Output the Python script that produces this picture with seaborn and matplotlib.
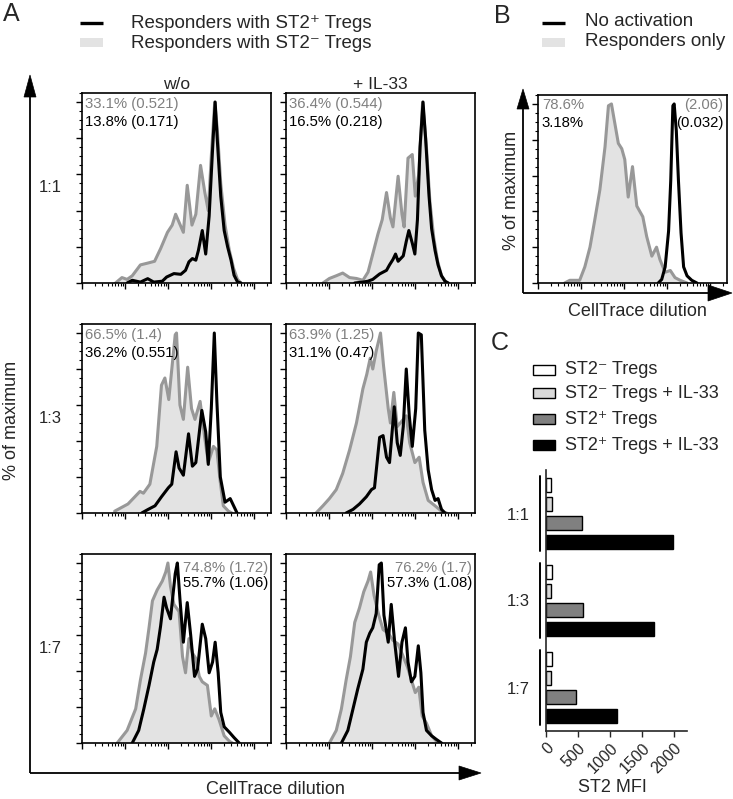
import numpy as np
import pandas as pd
import matplotlib
matplotlib.use("Agg")
import matplotlib.pyplot as plt
from matplotlib.patches import Polygon, Rectangle
from matplotlib.ticker import LogLocator, MultipleLocator, NullFormatter
import seaborn as sns

sns.set_style("ticks")
plt.rcParams["font.family"] = ["Liberation Sans", "DejaVu Sans"]
plt.rcParams["mathtext.fontset"] = "custom"
plt.rcParams["mathtext.rm"] = "Liberation Sans"
plt.rcParams["mathtext.it"] = "Liberation Sans:italic"
plt.rcParams["mathtext.bf"] = "Liberation Sans:bold"
plt.rcParams["mathtext.default"] = "regular"

W, H = 733, 799
GRAY_LINE = "#989898"
GRAY_FILL = "#e3e3e3"
GRAY_TEXT = "#808080"

# %% data: CellTrace intensity (log10) vs % of maximum
# "neg" = responders with ST2- Tregs (grey, filled), "pos" = responders with ST2+ Tregs (black)
r11_wo_neg_x = [1.78, 1.93, 2.05, 2.17, 2.36, 2.53, 2.69, 2.83, 2.99, 3.10, 3.18, 3.27, 3.36, 3.45,
                3.56, 3.65, 3.76, 3.86, 3.94, 4.01, 4.09, 4.15, 4.23, 4.33, 4.43, 4.53, 4.62, 4.70]
r11_wo_neg_y = [0, 3, 2, 4, 10, 11, 12, 19, 28, 32, 38, 33, 28, 54,
                32, 38, 65, 50, 40, 70, 100, 85, 55, 32, 18, 8, 2, 0]
r11_wo_pos_x = [2.05, 2.17, 2.36, 2.53, 2.67, 2.87, 2.97, 3.14, 3.30, 3.41, 3.49, 3.57, 3.65, 3.71,
                3.80, 3.88, 3.96, 4.04, 4.10, 4.15, 4.23, 4.31, 4.39, 4.47, 4.54, 4.62, 4.70]
r11_wo_pos_y = [0, 1.5, 0.5, 2.4, 0.5, 1, 3.3, 5.2, 4.8, 7, 11.7, 13.5, 12.6, 18,
                29, 16, 37, 74, 100, 79, 48, 29, 20, 12.6, 4.3, 0.6, 0]

r11_il_neg_x = [1.86, 2.01, 2.17, 2.32, 2.48, 2.64, 2.79, 2.91, 3.02, 3.14, 3.24, 3.34, 3.43, 3.49,
                3.61, 3.70, 3.75, 3.84, 3.94, 4.01, 4.09, 4.18, 4.27, 4.35, 4.44, 4.53, 4.62, 4.74]
r11_il_neg_y = [0, 2.5, 4, 5.5, 3, 2.5, 1.5, 6, 16, 27, 35, 50, 36, 31,
                59, 38, 31, 69, 71, 48, 60, 100, 75, 45, 25, 12, 4, 0]
r11_il_pos_x = [2.60, 2.79, 2.91, 3.02, 3.18, 3.34, 3.41, 3.49, 3.55, 3.61, 3.65, 3.73, 3.80, 3.86,
                3.94, 4.00, 4.06, 4.12, 4.19, 4.25, 4.33, 4.39, 4.47, 4.54, 4.62, 4.70, 4.78]
r11_il_pos_y = [0, 0.5, 1, 2, 5, 7, 10, 13, 16, 12, 13, 15, 23, 29,
                22, 16, 35, 75, 100, 80, 48, 30, 18, 10, 4, 1, 0]

r13_wo_neg_x = [1.76, 2.07, 2.35, 2.43, 2.58, 2.74, 2.85, 2.93, 3.02, 3.17, 3.20, 3.28, 3.36,
                3.46, 3.55, 3.63, 3.75, 3.85, 3.94, 4.06, 4.14, 4.22, 4.29, 4.41, 4.49]
r13_wo_neg_y = [1, 5, 12, 11, 16, 37, 71, 75, 63, 99, 100, 60, 52,
                81, 58, 52, 62, 43, 28, 37, 35, 17, 4, 1, 0]
r13_wo_pos_x = [2.39, 2.54, 2.70, 2.85, 3.01, 3.09, 3.19, 3.26, 3.36, 3.48, 3.57, 3.65,
                3.79, 3.88, 3.94, 4.01, 4.08, 4.14, 4.22, 4.33, 4.45, 4.53, 4.61]
r13_wo_pos_y = [0, 2, 4, 9, 14, 16, 34, 25, 21, 44, 26, 28,
                57, 45, 27, 58, 100, 62, 20, 6, 8, 4, 0]

r13_il_neg_x = [1.70, 1.86, 2.01, 2.17, 2.32, 2.48, 2.64, 2.79, 2.88, 2.96, 3.02, 3.10, 3.20, 3.27,
                3.38, 3.43, 3.51, 3.59, 3.66, 3.80, 3.88, 4.00, 4.10, 4.19, 4.31, 4.47, 4.62, 4.74]
r13_il_neg_y = [0, 4, 8, 13, 22, 35, 50, 69, 77, 86, 80, 90, 100, 82,
                58, 50, 67, 48, 50, 54, 39, 28, 31, 17, 7, 4, 1, 0]
r13_il_pos_x = [2.40, 2.56, 2.71, 2.87, 2.99, 3.06, 3.18, 3.26, 3.34, 3.41, 3.52, 3.59, 3.66, 3.73,
                3.80, 3.87, 3.94, 4.02, 4.08, 4.15, 4.23, 4.31, 4.39, 4.47, 4.54, 4.62, 4.70]
r13_il_pos_y = [0, 2, 5, 9, 13, 14, 42, 43, 31, 28, 59, 39, 32, 48,
                80, 54, 37, 58, 100, 99, 46, 24, 13, 7, 8, 2, 0]

r17_wo_neg_x = [1.82, 2.05, 2.25, 2.36, 2.48, 2.56, 2.64, 2.75, 2.87, 2.95, 3.00, 3.06, 3.14, 3.26,
                3.34, 3.41, 3.49, 3.57, 3.65, 3.73, 3.80, 3.92, 4.01, 4.09, 4.19, 4.31, 4.43, 4.50]
r17_wo_neg_y = [0, 7, 19, 35, 50, 64, 79, 85, 90, 95, 100, 87, 77, 73,
                48, 39, 58, 50, 47, 37, 34, 32, 15, 19, 13, 4, 1, 0]
r17_wo_pos_x = [2.17, 2.32, 2.44, 2.56, 2.67, 2.75, 2.83, 2.91, 2.97, 3.06, 3.17, 3.22, 3.28, 3.36, 3.45,
                3.53, 3.62, 3.69, 3.80, 3.88, 3.96, 4.04, 4.10, 4.17, 4.23, 4.31, 4.43, 4.54, 4.66]
r17_wo_pos_y = [0, 7, 19, 32, 45, 52, 65, 81, 75, 69, 94, 100, 80, 56, 78,
                60, 37, 41, 66, 58, 39, 45, 56, 39, 17, 9, 6, 3, 0]

r17_il_neg_x = [2.01, 2.17, 2.29, 2.40, 2.50, 2.60, 2.71, 2.81, 2.91, 2.97, 3.05, 3.16, 3.26,
                3.38, 3.49, 3.61, 3.73, 3.83, 3.92, 4.01, 4.09, 4.17, 4.27, 4.39, 4.54]
r17_il_neg_y = [0, 7, 19, 35, 48, 67, 75, 84, 90, 95, 82, 71, 63,
                61, 57, 55, 48, 42, 35, 28, 31, 15, 11, 4, 0]
r17_il_pos_x = [2.29, 2.44, 2.56, 2.67, 2.79, 2.87, 2.95, 3.02, 3.10, 3.17, 3.22, 3.28, 3.38, 3.45,
                3.53, 3.62, 3.70, 3.78, 3.84, 3.92, 4.00, 4.08, 4.14, 4.19, 4.27, 4.39, 4.50, 4.62]
r17_il_pos_y = [0, 7, 19, 30, 41, 56, 61, 64, 72, 99, 100, 71, 56, 77,
                56, 37, 56, 64, 45, 34, 37, 54, 39, 17, 7, 4, 2, 0]

# panel B: responders only (grey) vs no activation (black)
resp_only_x = [1.62, 1.74, 1.97, 2.09, 2.21, 2.32, 2.44, 2.56, 2.64, 2.71, 2.79, 2.87, 2.95, 3.02,
               3.10, 3.20, 3.30, 3.44, 3.53, 3.65, 3.76, 3.84, 3.96, 4.08, 4.19, 4.31, 4.47]
resp_only_y = [0, 1.5, 1.5, 9, 20, 35, 52, 76, 99, 100, 89, 78, 75, 69,
               48, 65, 43, 37, 26, 15, 20, 13, 6, 7, 3, 1.5, 0]
no_act_x = [3.80, 3.88, 3.96, 4.04, 4.09, 4.14, 4.17, 4.22, 4.27, 4.33, 4.39, 4.47, 4.58, 4.70]
no_act_y = [0, 2, 9, 29, 57, 99, 100, 85, 57, 28, 9, 4, 1.5, 0]

col_titles = ["w/o", "+ IL-33"]
row_labels = ["1:1", "1:3", "1:7"]
stats_neg = ["33.1% (0.521)", "36.4% (0.544)", "66.5% (1.4)", "63.9% (1.25)", "74.8% (1.72)", "76.2% (1.7)"]
stats_pos = ["13.8% (0.171)", "16.5% (0.218)", "36.2% (0.551)", "31.1% (0.47)", "55.7% (1.06)", "57.3% (1.08)"]

# panel C: ST2 MFI of Tregs
ratios = ["1:1", "1:3", "1:7"]
groups = ["ST2\u207b Tregs", "ST2\u207b Tregs + IL-33", "ST2\u207a Tregs", "ST2\u207a Tregs + IL-33"]
mfi_neg = [80, 90, 95]
mfi_neg_il33 = [95, 85, 75]
mfi_pos = [560, 575, 470]
mfi_pos_il33 = [1980, 1680, 1100]
bar_colors = ["white", "#d9d9d9", "#808080", "black"]

# %% figure
fig = plt.figure(figsize=(W / 100, H / 100), dpi=100)


def rect(x0, y0, x1, y1):
    return [x0 / W, 1 - y1 / H, (x1 - x0) / W, (y1 - y0) / H]


over = fig.add_axes([0, 0, 1, 1])
over.set_xlim(0, W)
over.set_ylim(H, 0)
over.axis("off")


def arrow(x0, y0, x1, y1, head_len=21, head_w=7):
    d = np.array([x1 - x0, y1 - y0], dtype=float)
    d /= np.hypot(*d)
    n = np.array([-d[1], d[0]])
    base = np.array([x1, y1]) - d * head_len
    over.plot([x0, base[0]], [y0, base[1]], color="black", lw=1.3, solid_capstyle="butt")
    over.add_patch(Polygon([(x1, y1), base + n * head_w, base - n * head_w], closed=True,
                           fc="black", ec="black", lw=0.5))


def flow_panel(ax, neg_x, neg_y, pos_x, pos_y):
    nx = 10 ** np.asarray(neg_x)
    px = 10 ** np.asarray(pos_x)
    ax.set_xscale("log")
    ax.fill_between(nx, neg_y, color=GRAY_FILL, lw=0, zorder=1)
    sns.lineplot(x=nx, y=neg_y, ax=ax, color=GRAY_LINE, lw=2.2, sort=False, estimator=None,
                 legend=False, zorder=2)
    sns.lineplot(x=px, y=pos_y, ax=ax, color="black", lw=2.2, sort=False, estimator=None,
                 legend=False, zorder=3)
    ax.set_xlim(10 ** 1.0, 10 ** 5.4)
    ax.set_ylim(0, 105)
    ax.xaxis.set_major_locator(LogLocator(base=10, numticks=10))
    ax.xaxis.set_minor_locator(LogLocator(base=10, subs=np.arange(2, 10), numticks=10))
    ax.xaxis.set_major_formatter(NullFormatter())
    ax.xaxis.set_minor_formatter(NullFormatter())
    ax.yaxis.set_major_locator(MultipleLocator(20))
    ax.yaxis.set_minor_locator(MultipleLocator(5))
    ax.tick_params(which="both", direction="out", top=False, right=False,
                   labelbottom=False, labelleft=False, color="black")
    ax.tick_params(which="major", length=4, width=1)
    ax.tick_params(which="minor", length=2, width=0.8)
    for s in ax.spines.values():
        s.set_linewidth(1.2)
        s.set_color("black")
    ax.set_xlabel("")
    ax.set_ylabel("")


# %% panel A
curves = [
    (r11_wo_neg_x, r11_wo_neg_y, r11_wo_pos_x, r11_wo_pos_y),
    (r11_il_neg_x, r11_il_neg_y, r11_il_pos_x, r11_il_pos_y),
    (r13_wo_neg_x, r13_wo_neg_y, r13_wo_pos_x, r13_wo_pos_y),
    (r13_il_neg_x, r13_il_neg_y, r13_il_pos_x, r13_il_pos_y),
    (r17_wo_neg_x, r17_wo_neg_y, r17_wo_pos_x, r17_wo_pos_y),
    (r17_il_neg_x, r17_il_neg_y, r17_il_pos_x, r17_il_pos_y),
]
col_x = [(82, 271), (286, 475)]
row_y = [(93, 283), (324, 513), (554, 743)]
for i, c in enumerate(curves):
    r, k = divmod(i, 2)
    ax = fig.add_axes(rect(col_x[k][0], row_y[r][0], col_x[k][1], row_y[r][1]))
    flow_panel(ax, *c)
    if r < 2:
        ax.text(0.015, 0.94, stats_neg[i], transform=ax.transAxes, color=GRAY_TEXT,
                fontsize=10.7, ha="left", va="center")
        ax.text(0.015, 0.845, stats_pos[i], transform=ax.transAxes, color="black",
                fontsize=10.7, ha="left", va="center")
    else:
        ax.text(0.985, 0.926, stats_neg[i], transform=ax.transAxes, color=GRAY_TEXT,
                fontsize=10.7, ha="right", va="center")
        ax.text(0.985, 0.846, stats_pos[i], transform=ax.transAxes, color="black",
                fontsize=10.7, ha="right", va="center")
    if r == 0:
        ax.set_title(col_titles[k], fontsize=12.5, pad=3)
    if k == 0:
        ax.text(-0.17, 0.5, row_labels[r], transform=ax.transAxes, fontsize=12,
                ha="center", va="center")

# %% panel B
axb = fig.add_axes(rect(538, 95, 727, 283))
flow_panel(axb, resp_only_x, resp_only_y, no_act_x, no_act_y)
axb.text(0.02, 0.947, "78.6%", transform=axb.transAxes, color=GRAY_TEXT, fontsize=10.7, va="center")
axb.text(0.02, 0.85, "3.18%", transform=axb.transAxes, color="black", fontsize=10.7, va="center")
axb.text(0.98, 0.947, "(2.06)", transform=axb.transAxes, color=GRAY_TEXT, fontsize=10.7,
         ha="right", va="center")
axb.text(0.98, 0.85, "(0.032)", transform=axb.transAxes, color="black", fontsize=10.7,
         ha="right", va="center")

# %% panel C
mfi = pd.DataFrame({
    "ratio": ratios * 4,
    "group": np.repeat(groups, len(ratios)),
    "mfi": mfi_neg + mfi_neg_il33 + mfi_pos + mfi_pos_il33,
})
axc = fig.add_axes(rect(546, 470, 687, 731))
sns.barplot(data=mfi, x="mfi", y="ratio", hue="group", hue_order=groups, order=ratios,
            palette=bar_colors, orient="h", width=0.87, gap=0.26, saturation=1,
            edgecolor="black", linewidth=1, legend=False, ax=axc)
axc.set_xlim(0, 2200)
axc.set_ylim(2.5, -0.5)
axc.set_xticks([0, 500, 1000, 1500, 2000])
axc.set_xticklabels(["0", "500", "1000", "1500", "2000"], rotation=45, ha="right",
                    va="top", rotation_mode="anchor", fontsize=11.5)
sns.despine(ax=axc)
for s in ("left", "bottom"):
    axc.spines[s].set_linewidth(1.2)
axc.tick_params(axis="x", length=4, width=1, pad=3)
axc.tick_params(axis="y", length=0, pad=12, labelsize=12)
axc.set_ylabel("")
axc.set_xlabel("")
ytr = axc.get_yaxis_transform()
for i in range(len(ratios)):
    axc.plot([-0.045, -0.045], [i - 0.43, i + 0.43], transform=ytr, color="black",
             lw=1.4, clip_on=False)

# %% overlay: arrows, labels, legends
arrow(30, 773, 30, 75, head_len=22, head_w=6)
arrow(30, 773, 481, 773, head_len=22, head_w=7)
arrow(523, 293, 523, 89, head_len=20, head_w=6)
arrow(523, 293, 732, 293, head_len=24, head_w=8)

over.text(12, 420, "% of maximum", rotation=90, fontsize=13, ha="center", va="center")
over.text(275, 790, "CellTrace dilution", fontsize=13, ha="center", va="center")
over.text(511, 190, "% of maximum", rotation=90, fontsize=13, ha="center", va="center")
over.text(637, 311, "CellTrace dilution", fontsize=13, ha="center", va="center")
over.text(612, 788, "ST2 MFI", fontsize=13, ha="center", va="center")

over.text(11, 14, "A", fontsize=18, ha="center", va="center")
over.text(502, 16, "B", fontsize=18, ha="center", va="center")
over.text(500, 343, "C", fontsize=18, ha="center", va="center")

# legend A
over.plot([80, 103], [23, 23], color="black", lw=2.4, solid_capstyle="butt")
over.add_patch(Rectangle((80, 38), 23, 9, fc=GRAY_FILL, ec="none"))
over.text(131, 23, "Responders with ST2\u207a Tregs", fontsize=13.5, va="center")
over.text(131, 43, "Responders with ST2\u207b Tregs", fontsize=13.5, va="center")

# legend B
over.plot([542, 565], [23, 23], color="black", lw=2.4, solid_capstyle="butt")
over.add_patch(Rectangle((542, 38), 23, 9, fc=GRAY_FILL, ec="none"))
over.text(585, 22, "No activation", fontsize=13.5, va="center")
over.text(585, 42, "Responders only", fontsize=13.5, va="center")

# legend C
for lab, col, yy in zip(groups, bar_colors, [370, 393, 419, 445]):
    over.add_patch(Rectangle((533, yy - 5), 22, 10, fc=col, ec="black", lw=1))
    over.text(565, yy, lab, fontsize=13, va="center")

fig.savefig("out.png", dpi=100)
